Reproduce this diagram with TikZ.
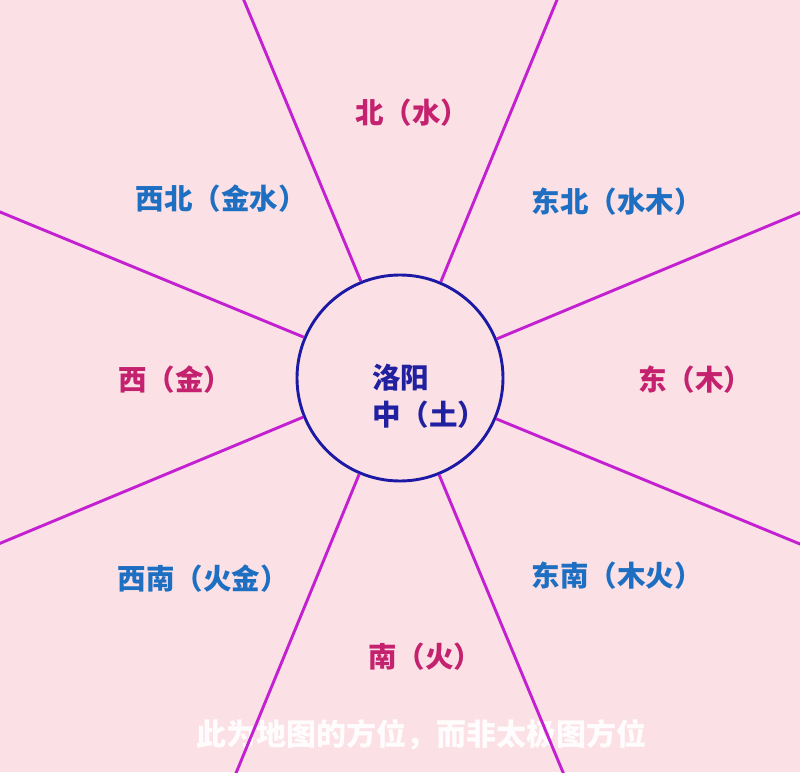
\documentclass[tikz,border=0pt]{standalone}
\usepackage{fontspec}
\newfontfamily\cjk{Noto Sans CJK SC}
\usetikzlibrary{calc}
\definecolor{bgpink}{RGB}{251,225,229}
\definecolor{linemag}{RGB}{194,32,208}
\definecolor{circblue}{RGB}{28,26,165}
\definecolor{redtxt}{RGB}{196,34,110}
\definecolor{bluetxt}{RGB}{30,111,194}
\definecolor{centertxt}{RGB}{32,32,160}
\tikzset{
  ray/.style={draw=linemag, line width=2.9pt},
  lbl/.style={font=\cjk\bfseries\fontsize{28.5}{32}\selectfont, inner sep=0pt},
  redlbl/.style={lbl, text=redtxt},
  bluelbl/.style={lbl, text=bluetxt},
}
\begin{document}
\begin{tikzpicture}[x=1pt,y=1pt]
\useasboundingbox (0,0) rectangle (800,772);
\fill[bgpink] (0,0) rectangle (800,772);
\begin{scope}
\clip (0,0) rectangle (800,772);
\node[font=\cjk\bfseries\fontsize{30}{34}\selectfont, text=white, opacity=0.92, inner sep=0pt] (note) at (421,37) {此为地图的方位，而非太极图方位};
\node[circle, draw=circblue, line width=2.9pt, minimum size=206pt, inner sep=0pt] (c) at (400,394) {};
\foreach \i in {0,...,7}{
  \pgfmathsetmacro{\a}{22.5+45*\i}
  \coordinate (e\i) at ($(c)+(\a:600)$);
  \draw[ray] (c.\a) -- (e\i);
}
\end{scope}
\node[lbl, text=centertxt, align=left, font=\cjk\bfseries\fontsize{28.5}{37}\selectfont] (mid) at (429,376) {洛阳\\中（土）};
\node[redlbl] (n) at (412,659) {北（水）};
\node[bluelbl] (ne) at (617,570) {东北（水木）};
\node[bluelbl] (nw) at (221,573) {西北（金水）};
\node[redlbl] (w) at (175,392) {西（金）};
\node[redlbl] (e) at (695,392) {东（木）};
\node[bluelbl] (sw) at (203,193) {西南（火金）};
\node[bluelbl] (se) at (617,196) {东南（木火）};
\node[redlbl] (s) at (425,115) {南（火）};
\end{tikzpicture}
\end{document}
